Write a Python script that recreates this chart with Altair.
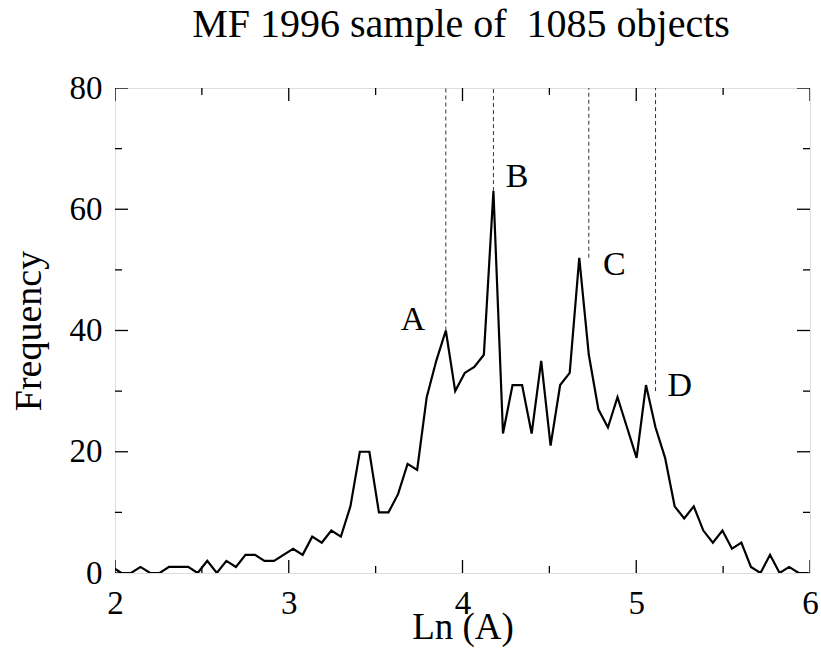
import altair as alt
import pandas as pd

# ---- data ----
ln_a = [1.982, 2.037, 2.092, 2.147, 2.202, 2.257, 2.311, 2.366, 2.421, 2.476,
        2.531, 2.586, 2.641, 2.696, 2.751, 2.806, 2.860, 2.915, 2.970, 3.025,
        3.080, 3.135, 3.190, 3.245, 3.300, 3.355, 3.409, 3.464, 3.519, 3.574,
        3.629, 3.684, 3.739, 3.794, 3.849, 3.904, 3.958, 4.013, 4.068, 4.123,
        4.178, 4.233, 4.288, 4.343, 4.398, 4.453, 4.507, 4.562, 4.617, 4.672,
        4.727, 4.782, 4.837, 4.892, 4.947, 5.002, 5.056, 5.111, 5.166, 5.221,
        5.276, 5.331, 5.386, 5.441, 5.496, 5.551, 5.605, 5.660, 5.715, 5.770,
        5.825, 5.880, 5.935, 5.990]
frequency = [1, 0, 0, 1, 0, 0, 1, 1, 1, 0,
             2, 0, 2, 1, 3, 3, 2, 2, 3, 4,
             3, 6, 5, 7, 6, 11, 20, 20, 10, 10,
             13, 18, 17, 29, 35, 40, 30, 33, 34, 36,
             63, 23, 31, 31, 23, 35, 21, 31, 33, 52,
             36, 27, 24, 29, 24, 19, 31, 24, 19, 11,
             9, 11, 7, 5, 7, 4, 5, 1, 0, 3,
             0, 1, 0, 0]

peak_labels = ["A", "B", "C", "D"]
label_x = [3.716, 4.314, 4.874, 5.25]
label_y = [41.7, 65.3, 50.8, 30.8]

dash_x = [3.904, 4.178, 4.727, 5.111]
dash_bottom = [40, 63, 52, 30]
dash_top = 80

x_major = [2, 3, 4, 5, 6]
x_minor = [2.5, 3.5, 4.5, 5.5]
y_major = [0, 20, 40, 60, 80]
y_minor = [10, 30, 50, 70]

TITLE = "MF 1996 sample of \u00a01085 objects"
FONT = "Liberation Serif"

# ---- tables ----
hist = pd.DataFrame({"ln": ln_a, "freq": frequency})
labels = pd.DataFrame({"lab": peak_labels, "x": label_x, "y": label_y})
dashes = pd.DataFrame({"x": dash_x, "bottom": dash_bottom})
title_df = pd.DataFrame({"t": [TITLE]})

xscale = alt.Scale(domain=[2, 6], nice=False, zero=False)
yscale = alt.Scale(domain=[0, 80], nice=False, zero=False)

X = alt.X("ln:Q", scale=xscale,
          axis=alt.Axis(values=x_major, format="d", grid=False, ticks=False,
                        tickSize=0, domain=False, labelFont=FONT,
                        labelFontSize=33, labelColor="black",
                        labelPadding=14, labelFlush=False, labelOverlap=False,
                        title="Ln (A)", titleFont=FONT, titleFontSize=37,
                        titleFontWeight="normal", titleColor="black",
                        titleY=65, titleBaseline="alphabetic"))
Y = alt.Y("freq:Q", scale=yscale,
          axis=alt.Axis(values=y_major, format="d", grid=False, ticks=False,
                        tickSize=0, domain=False, labelFont=FONT,
                        labelFontSize=33, labelColor="black",
                        labelPadding=13, labelFlush=False, labelOverlap=False,
                        title="Frequency", titleFont=FONT, titleFontSize=38,
                        titleFontWeight="normal", titleColor="black",
                        titleAngle=-90, titleX=-75, titleY=242.5,
                        titleAlign="center", titleBaseline="alphabetic"))

line = alt.Chart(hist).mark_line(color="black", strokeWidth=2.2, clip=True,
                                 strokeJoin="miter").encode(x=X, y=Y)

rules = alt.Chart(dashes).mark_rule(color="#333333", strokeWidth=1,
                                    strokeDash=[4, 3]).encode(
    x=alt.X("x:Q", scale=xscale),
    y=alt.Y("bottom:Q", scale=yscale),
    y2=alt.datum(dash_top),
)

text = alt.Chart(labels).mark_text(font=FONT, fontSize=34, color="black",
                                   align="center", baseline="middle").encode(
    x=alt.X("x:Q", scale=xscale),
    y=alt.Y("y:Q", scale=yscale),
    text="lab:N",
)

title = alt.Chart(title_df).mark_text(font=FONT, fontSize=40, color="black",
                                      align="center", baseline="alphabetic").encode(
    x=alt.value(346), y=alt.value(-51), text="t:N")


def xticks(vals, at, length):
    df = pd.DataFrame({"v": vals})
    return alt.Chart(df).mark_tick(orient="vertical", size=length, thickness=1.3,
                                   color="black", clip=True, opacity=1).encode(
        x=alt.X("v:Q", scale=xscale), y=alt.datum(at))


def yticks(vals, at, length):
    df = pd.DataFrame({"v": vals})
    return alt.Chart(df).mark_tick(orient="horizontal", size=length, thickness=1.3,
                                   color="black", clip=True, opacity=1).encode(
        y=alt.Y("v:Q", scale=yscale), x=alt.datum(at))


ticks = [
    xticks(x_major, 0, 26), xticks(x_major, 80, 26),
    xticks(x_minor, 0, 14), xticks(x_minor, 80, 14),
    yticks(y_major, 2, 26), yticks(y_major, 6, 26),
    yticks(y_minor, 2, 14), yticks(y_minor, 6, 14),
]

chart = alt.layer(line, rules, text, title, *ticks).properties(
    width=695, height=485,
    autosize=alt.AutoSizeParams(type="none"),
    padding={"left": 115, "top": 88, "right": 11, "bottom": 78},
).configure_view(stroke="black", strokeWidth=2).configure(background="white")

chart.save("out.html", embed_options={"renderer": "svg", "actions": False})
